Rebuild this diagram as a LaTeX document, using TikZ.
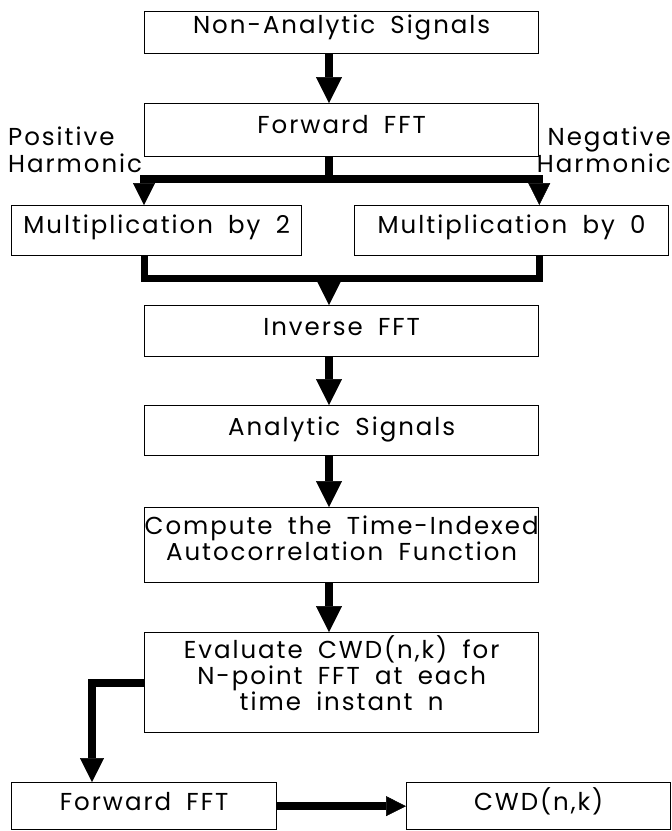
\documentclass[tikz,border=0pt]{standalone}
\usepackage{fontspec}
\setmainfont{Poppins}[LetterSpace=8, WordSpace=1.8]
\usepackage{tikz}
\usetikzlibrary{arrows.meta}
\tikzstyle{block}=[draw, rectangle, line width=1.3pt, inner sep=0pt, anchor=north west]
\tikzstyle{lbl}=[inner sep=0pt]
\tikzset{flow/.style={line width=8pt},
  arrowhd/.style={-{Triangle[width=#1,length=#1,line width=0.5pt]}}}

\begin{document}
\begin{tikzpicture}[x=1pt, y=-1pt, font=\fontsize{24.5}{25}\selectfont]
		\useasboundingbox (0,0) rectangle (672,831);
		\node[block, minimum width=394pt, text height=22pt, text depth=20pt] (nas) at (144,11) {Non-Analytic Signals};
		\node[block, minimum width=394pt, text height=30pt, text depth=23pt] (fft) at (144,103) {Forward FFT};
		\node[lbl, anchor=base west] (pos) at (8,172) {\begin{tabular}[b]{@{}l@{}}Positive\\Harmonic\end{tabular}};
		\node[lbl, anchor=base east] (neg) at (671,172) {\begin{tabular}[b]{@{}r@{}}Negative\\Harmonic\end{tabular}};
		\node[block, minimum width=290pt, text height=28pt, text depth=22pt] (mul2) at (11,205) {Multiplication by 2};
		\node[block, minimum width=314pt, text height=28pt, text depth=22pt] (mul0) at (354,205) {Multiplication by 0};
		\node[block, minimum width=394pt, text height=30pt, text depth=21pt] (inv) at (144,305) {Inverse FFT};
		\node[block, minimum width=394pt, text height=30pt, text depth=20pt] (ana) at (144,405) {Analytic Signals};
		\node[block, minimum width=394pt, text height=53pt, text depth=22pt] (acf) at (144,507) {\begin{tabular}[b]{@{}c@{}}Compute the Time-Indexed\\Autocorrelation Function\end{tabular}};
		\node[block, minimum width=394pt, text height=78pt, text depth=22pt] (cwdn) at (144,632) {\begin{tabular}[b]{@{}c@{}}Evaluate CWD(n,k) for\\N-point FFT at each\\time instant n\end{tabular}};
		\node[block, minimum width=265pt, text height=28pt, text depth=19pt] (fwd) at (11,782) {Forward FFT};
		\node[block, minimum width=264pt, text height=28pt, text depth=19pt] (cwd) at (406,782) {CWD(n,k)};
		% connectors
		\coordinate (axis) at (329,0);
		\coordinate (split) at (329,179);
		\coordinate (merge) at (329,278);
		\coordinate (bend) at (92,0);
		\draw[flow, arrowhd=26pt] (nas.south -| axis) -- (fft.north -| axis);
		\draw[flow] (fft.south -| axis) -- (split);
		\draw[flow, arrowhd=22pt] (split) -| (mul2.north -| fft.west);
		\draw[flow, arrowhd=22pt] (split) -| (mul0.north -| fft.east);
		\draw[flow, line width=7pt] (mul2.south -| fft.west) |- (merge) -| (mul0.south -| fft.east);
		\draw[flow, arrowhd=24pt] (merge) -- (inv.north -| axis);
		\draw[flow, arrowhd=26pt] (inv.south -| axis) -- (ana.north -| axis);
		\draw[flow, arrowhd=26pt] (ana.south -| axis) -- (acf.north -| axis);
		\draw[flow, arrowhd=26pt] (acf.south -| axis) -- (cwdn.north -| axis);
		\draw[flow, arrowhd=24pt] (cwdn.west) -| (fwd.north -| bend);
		\draw[flow, arrowhd=20pt] (fwd.east) -- (cwd.west);
	\end{tikzpicture}
\end{document}
